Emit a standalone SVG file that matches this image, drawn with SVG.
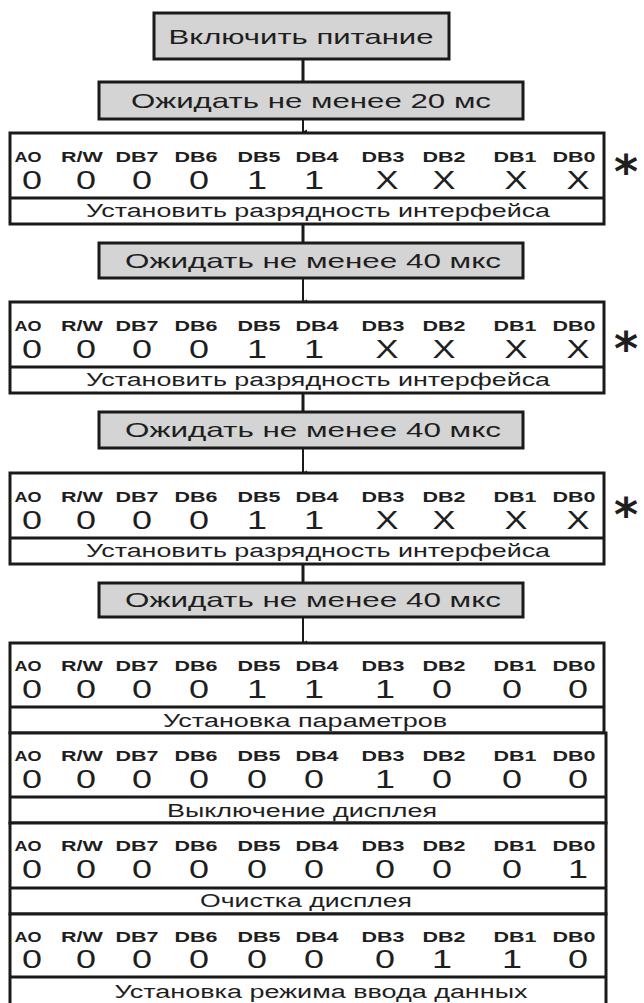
<svg xmlns="http://www.w3.org/2000/svg" width="644" height="1003" viewBox="0 0 644 1003">
<style>
.gray{fill:#d4d4d4;stroke:#1a1a1a;stroke-width:3}
.reg{fill:#fff;stroke:#1a1a1a;stroke-width:3}
.div{stroke:#1a1a1a;stroke-width:3}
.con{stroke:#1a1a1a;stroke-width:3;fill:none}
.cona{stroke:#1a1a1a;stroke-width:2;fill:none}
text{font-family:"Liberation Sans",Arial,sans-serif;fill:#1e1e1e}
.t{font-size:21px;text-anchor:middle}
.h{font-size:15px;font-weight:bold;text-anchor:middle}
.v{font-size:25px;text-anchor:middle}
.l{font-size:18px;text-anchor:middle}
.s{font-family:"DejaVu Sans",sans-serif;font-size:46px;font-weight:bold;text-anchor:middle}
</style>
<defs>
<marker id="arr" markerWidth="6" markerHeight="6" refX="3" refY="5" orient="auto-start-reverse" markerUnits="userSpaceOnUse" viewBox="0 0 6 6">
<path d="M0.5,1 L3,6 L5.5,1 Z" fill="#1a1a1a"/>
</marker>
</defs>

<g id="connectors">
<line class="con" x1="303" y1="58" x2="303" y2="82"/>
<line class="cona" x1="303" y1="118" x2="303" y2="132" marker-end="url(#arr)"/>
<line class="con" x1="303" y1="224" x2="303" y2="243"/>
<line class="cona" x1="303" y1="278" x2="303" y2="302" marker-end="url(#arr)"/>
<line class="con" x1="303" y1="393" x2="303" y2="412"/>
<line class="cona" x1="303" y1="448" x2="303" y2="473" marker-end="url(#arr)"/>
<line class="con" x1="303" y1="564" x2="303" y2="583"/>
<line class="cona" x1="303" y1="617" x2="303" y2="643" marker-end="url(#arr)"/>
</g>

<g id="power">
<rect class="gray" x="154" y="13" width="295" height="46"/>
<text class="t" x="301" y="44" textLength="265" lengthAdjust="spacingAndGlyphs">Включить питание</text>
</g>

<g id="wait20">
<rect class="gray" x="99" y="82" width="424" height="37"/>
<text class="t" x="311" y="108" textLength="360" lengthAdjust="spacingAndGlyphs">Ожидать не менее 20 мс</text>
</g>

<g id="reg1">
<rect class="reg" x="10" y="133" width="594" height="91"/>
<line class="div" x1="10" y1="198" x2="604" y2="198"/>
<text class="h" x="28" y="162" textLength="27" lengthAdjust="spacingAndGlyphs">AO</text>
<text class="h" x="82" y="162" textLength="42" lengthAdjust="spacingAndGlyphs">R/W</text>
<text class="h" x="137" y="162" textLength="43" lengthAdjust="spacingAndGlyphs">DB7</text>
<text class="h" x="196" y="162" textLength="43" lengthAdjust="spacingAndGlyphs">DB6</text>
<text class="h" x="259" y="162" textLength="43" lengthAdjust="spacingAndGlyphs">DB5</text>
<text class="h" x="317" y="162" textLength="43" lengthAdjust="spacingAndGlyphs">DB4</text>
<text class="h" x="383" y="162" textLength="43" lengthAdjust="spacingAndGlyphs">DB3</text>
<text class="h" x="444" y="162" textLength="43" lengthAdjust="spacingAndGlyphs">DB2</text>
<text class="h" x="515" y="162" textLength="43" lengthAdjust="spacingAndGlyphs">DB1</text>
<text class="h" x="574" y="162" textLength="43" lengthAdjust="spacingAndGlyphs">DB0</text>
<text class="v" x="32" y="189" textLength="20" lengthAdjust="spacingAndGlyphs">0</text>
<text class="v" x="86" y="189" textLength="20" lengthAdjust="spacingAndGlyphs">0</text>
<text class="v" x="142" y="189" textLength="20" lengthAdjust="spacingAndGlyphs">0</text>
<text class="v" x="199" y="189" textLength="20" lengthAdjust="spacingAndGlyphs">0</text>
<text class="v" x="257" y="189" textLength="20" lengthAdjust="spacingAndGlyphs">1</text>
<text class="v" x="314" y="189" textLength="20" lengthAdjust="spacingAndGlyphs">1</text>
<text class="v" x="387" y="189" textLength="23" lengthAdjust="spacingAndGlyphs">X</text>
<text class="v" x="444" y="189" textLength="23" lengthAdjust="spacingAndGlyphs">X</text>
<text class="v" x="516" y="189" textLength="23" lengthAdjust="spacingAndGlyphs">X</text>
<text class="v" x="578" y="189" textLength="23" lengthAdjust="spacingAndGlyphs">X</text>
<text class="l" x="318" y="217" textLength="464" lengthAdjust="spacingAndGlyphs">Установить разрядность интерфейса</text>
<text class="s" x="626" y="188">*</text>
</g>

<g id="wait40a">
<rect class="gray" x="99" y="243" width="424" height="35"/>
<text class="t" x="313" y="268" textLength="376" lengthAdjust="spacingAndGlyphs">Ожидать не менее 40 мкс</text>
</g>

<g id="reg2">
<rect class="reg" x="10" y="302" width="594" height="91"/>
<line class="div" x1="10" y1="367" x2="604" y2="367"/>
<text class="h" x="28" y="331" textLength="27" lengthAdjust="spacingAndGlyphs">AO</text>
<text class="h" x="82" y="331" textLength="42" lengthAdjust="spacingAndGlyphs">R/W</text>
<text class="h" x="137" y="331" textLength="43" lengthAdjust="spacingAndGlyphs">DB7</text>
<text class="h" x="196" y="331" textLength="43" lengthAdjust="spacingAndGlyphs">DB6</text>
<text class="h" x="259" y="331" textLength="43" lengthAdjust="spacingAndGlyphs">DB5</text>
<text class="h" x="317" y="331" textLength="43" lengthAdjust="spacingAndGlyphs">DB4</text>
<text class="h" x="383" y="331" textLength="43" lengthAdjust="spacingAndGlyphs">DB3</text>
<text class="h" x="444" y="331" textLength="43" lengthAdjust="spacingAndGlyphs">DB2</text>
<text class="h" x="515" y="331" textLength="43" lengthAdjust="spacingAndGlyphs">DB1</text>
<text class="h" x="574" y="331" textLength="43" lengthAdjust="spacingAndGlyphs">DB0</text>
<text class="v" x="32" y="358" textLength="20" lengthAdjust="spacingAndGlyphs">0</text>
<text class="v" x="86" y="358" textLength="20" lengthAdjust="spacingAndGlyphs">0</text>
<text class="v" x="142" y="358" textLength="20" lengthAdjust="spacingAndGlyphs">0</text>
<text class="v" x="199" y="358" textLength="20" lengthAdjust="spacingAndGlyphs">0</text>
<text class="v" x="257" y="358" textLength="20" lengthAdjust="spacingAndGlyphs">1</text>
<text class="v" x="314" y="358" textLength="20" lengthAdjust="spacingAndGlyphs">1</text>
<text class="v" x="387" y="358" textLength="23" lengthAdjust="spacingAndGlyphs">X</text>
<text class="v" x="444" y="358" textLength="23" lengthAdjust="spacingAndGlyphs">X</text>
<text class="v" x="516" y="358" textLength="23" lengthAdjust="spacingAndGlyphs">X</text>
<text class="v" x="578" y="358" textLength="23" lengthAdjust="spacingAndGlyphs">X</text>
<text class="l" x="318" y="386" textLength="464" lengthAdjust="spacingAndGlyphs">Установить разрядность интерфейса</text>
<text class="s" x="626" y="365">*</text>
</g>

<g id="wait40b">
<rect class="gray" x="99" y="412" width="424" height="36"/>
<text class="t" x="313" y="437" textLength="376" lengthAdjust="spacingAndGlyphs">Ожидать не менее 40 мкс</text>
</g>

<g id="reg3">
<rect class="reg" x="10" y="473" width="594" height="91"/>
<line class="div" x1="10" y1="538" x2="604" y2="538"/>
<text class="h" x="28" y="502" textLength="27" lengthAdjust="spacingAndGlyphs">AO</text>
<text class="h" x="82" y="502" textLength="42" lengthAdjust="spacingAndGlyphs">R/W</text>
<text class="h" x="137" y="502" textLength="43" lengthAdjust="spacingAndGlyphs">DB7</text>
<text class="h" x="196" y="502" textLength="43" lengthAdjust="spacingAndGlyphs">DB6</text>
<text class="h" x="259" y="502" textLength="43" lengthAdjust="spacingAndGlyphs">DB5</text>
<text class="h" x="317" y="502" textLength="43" lengthAdjust="spacingAndGlyphs">DB4</text>
<text class="h" x="383" y="502" textLength="43" lengthAdjust="spacingAndGlyphs">DB3</text>
<text class="h" x="444" y="502" textLength="43" lengthAdjust="spacingAndGlyphs">DB2</text>
<text class="h" x="515" y="502" textLength="43" lengthAdjust="spacingAndGlyphs">DB1</text>
<text class="h" x="574" y="502" textLength="43" lengthAdjust="spacingAndGlyphs">DB0</text>
<text class="v" x="32" y="529" textLength="20" lengthAdjust="spacingAndGlyphs">0</text>
<text class="v" x="86" y="529" textLength="20" lengthAdjust="spacingAndGlyphs">0</text>
<text class="v" x="142" y="529" textLength="20" lengthAdjust="spacingAndGlyphs">0</text>
<text class="v" x="199" y="529" textLength="20" lengthAdjust="spacingAndGlyphs">0</text>
<text class="v" x="257" y="529" textLength="20" lengthAdjust="spacingAndGlyphs">1</text>
<text class="v" x="314" y="529" textLength="20" lengthAdjust="spacingAndGlyphs">1</text>
<text class="v" x="387" y="529" textLength="23" lengthAdjust="spacingAndGlyphs">X</text>
<text class="v" x="444" y="529" textLength="23" lengthAdjust="spacingAndGlyphs">X</text>
<text class="v" x="516" y="529" textLength="23" lengthAdjust="spacingAndGlyphs">X</text>
<text class="v" x="578" y="529" textLength="23" lengthAdjust="spacingAndGlyphs">X</text>
<text class="l" x="318" y="557" textLength="464" lengthAdjust="spacingAndGlyphs">Установить разрядность интерфейса</text>
<text class="s" x="626" y="531">*</text>
</g>

<g id="wait40c">
<rect class="gray" x="99" y="583" width="424" height="34"/>
<text class="t" x="313" y="607" textLength="376" lengthAdjust="spacingAndGlyphs">Ожидать не менее 40 мкс</text>
</g>

<g id="reg4">
<rect class="reg" x="10" y="643" width="594" height="90"/>
<line class="div" x1="10" y1="707" x2="604" y2="707"/>
<text class="h" x="28" y="671" textLength="27" lengthAdjust="spacingAndGlyphs">AO</text>
<text class="h" x="82" y="671" textLength="42" lengthAdjust="spacingAndGlyphs">R/W</text>
<text class="h" x="137" y="671" textLength="43" lengthAdjust="spacingAndGlyphs">DB7</text>
<text class="h" x="196" y="671" textLength="43" lengthAdjust="spacingAndGlyphs">DB6</text>
<text class="h" x="259" y="671" textLength="43" lengthAdjust="spacingAndGlyphs">DB5</text>
<text class="h" x="317" y="671" textLength="43" lengthAdjust="spacingAndGlyphs">DB4</text>
<text class="h" x="383" y="671" textLength="43" lengthAdjust="spacingAndGlyphs">DB3</text>
<text class="h" x="444" y="671" textLength="43" lengthAdjust="spacingAndGlyphs">DB2</text>
<text class="h" x="515" y="671" textLength="43" lengthAdjust="spacingAndGlyphs">DB1</text>
<text class="h" x="574" y="671" textLength="43" lengthAdjust="spacingAndGlyphs">DB0</text>
<text class="v" x="32" y="698" textLength="20" lengthAdjust="spacingAndGlyphs">0</text>
<text class="v" x="86" y="698" textLength="20" lengthAdjust="spacingAndGlyphs">0</text>
<text class="v" x="142" y="698" textLength="20" lengthAdjust="spacingAndGlyphs">0</text>
<text class="v" x="199" y="698" textLength="20" lengthAdjust="spacingAndGlyphs">0</text>
<text class="v" x="257" y="698" textLength="20" lengthAdjust="spacingAndGlyphs">1</text>
<text class="v" x="314" y="698" textLength="20" lengthAdjust="spacingAndGlyphs">1</text>
<text class="v" x="385" y="698" textLength="20" lengthAdjust="spacingAndGlyphs">1</text>
<text class="v" x="442" y="698" textLength="20" lengthAdjust="spacingAndGlyphs">0</text>
<text class="v" x="512" y="698" textLength="20" lengthAdjust="spacingAndGlyphs">0</text>
<text class="v" x="578" y="698" textLength="20" lengthAdjust="spacingAndGlyphs">0</text>
<text class="l" x="305" y="727" textLength="284" lengthAdjust="spacingAndGlyphs">Установка параметров</text>
</g>

<g id="reg5">
<rect class="reg" x="10" y="733" width="596" height="90"/>
<line class="div" x1="10" y1="797" x2="606" y2="797"/>
<text class="h" x="28" y="761" textLength="27" lengthAdjust="spacingAndGlyphs">AO</text>
<text class="h" x="82" y="761" textLength="42" lengthAdjust="spacingAndGlyphs">R/W</text>
<text class="h" x="137" y="761" textLength="43" lengthAdjust="spacingAndGlyphs">DB7</text>
<text class="h" x="196" y="761" textLength="43" lengthAdjust="spacingAndGlyphs">DB6</text>
<text class="h" x="259" y="761" textLength="43" lengthAdjust="spacingAndGlyphs">DB5</text>
<text class="h" x="317" y="761" textLength="43" lengthAdjust="spacingAndGlyphs">DB4</text>
<text class="h" x="383" y="761" textLength="43" lengthAdjust="spacingAndGlyphs">DB3</text>
<text class="h" x="444" y="761" textLength="43" lengthAdjust="spacingAndGlyphs">DB2</text>
<text class="h" x="515" y="761" textLength="43" lengthAdjust="spacingAndGlyphs">DB1</text>
<text class="h" x="574" y="761" textLength="43" lengthAdjust="spacingAndGlyphs">DB0</text>
<text class="v" x="32" y="788" textLength="20" lengthAdjust="spacingAndGlyphs">0</text>
<text class="v" x="86" y="788" textLength="20" lengthAdjust="spacingAndGlyphs">0</text>
<text class="v" x="142" y="788" textLength="20" lengthAdjust="spacingAndGlyphs">0</text>
<text class="v" x="199" y="788" textLength="20" lengthAdjust="spacingAndGlyphs">0</text>
<text class="v" x="257" y="788" textLength="20" lengthAdjust="spacingAndGlyphs">0</text>
<text class="v" x="314" y="788" textLength="20" lengthAdjust="spacingAndGlyphs">0</text>
<text class="v" x="385" y="788" textLength="20" lengthAdjust="spacingAndGlyphs">1</text>
<text class="v" x="442" y="788" textLength="20" lengthAdjust="spacingAndGlyphs">0</text>
<text class="v" x="512" y="788" textLength="20" lengthAdjust="spacingAndGlyphs">0</text>
<text class="v" x="578" y="788" textLength="20" lengthAdjust="spacingAndGlyphs">0</text>
<text class="l" x="302" y="817" textLength="270" lengthAdjust="spacingAndGlyphs">Выключение дисплея</text>
</g>

<g id="reg6">
<rect class="reg" x="10" y="823" width="596" height="91"/>
<line class="div" x1="10" y1="888" x2="606" y2="888"/>
<text class="h" x="28" y="851" textLength="27" lengthAdjust="spacingAndGlyphs">AO</text>
<text class="h" x="82" y="851" textLength="42" lengthAdjust="spacingAndGlyphs">R/W</text>
<text class="h" x="137" y="851" textLength="43" lengthAdjust="spacingAndGlyphs">DB7</text>
<text class="h" x="196" y="851" textLength="43" lengthAdjust="spacingAndGlyphs">DB6</text>
<text class="h" x="259" y="851" textLength="43" lengthAdjust="spacingAndGlyphs">DB5</text>
<text class="h" x="317" y="851" textLength="43" lengthAdjust="spacingAndGlyphs">DB4</text>
<text class="h" x="383" y="851" textLength="43" lengthAdjust="spacingAndGlyphs">DB3</text>
<text class="h" x="444" y="851" textLength="43" lengthAdjust="spacingAndGlyphs">DB2</text>
<text class="h" x="515" y="851" textLength="43" lengthAdjust="spacingAndGlyphs">DB1</text>
<text class="h" x="574" y="851" textLength="43" lengthAdjust="spacingAndGlyphs">DB0</text>
<text class="v" x="32" y="878" textLength="20" lengthAdjust="spacingAndGlyphs">0</text>
<text class="v" x="86" y="878" textLength="20" lengthAdjust="spacingAndGlyphs">0</text>
<text class="v" x="142" y="878" textLength="20" lengthAdjust="spacingAndGlyphs">0</text>
<text class="v" x="199" y="878" textLength="20" lengthAdjust="spacingAndGlyphs">0</text>
<text class="v" x="257" y="878" textLength="20" lengthAdjust="spacingAndGlyphs">0</text>
<text class="v" x="314" y="878" textLength="20" lengthAdjust="spacingAndGlyphs">0</text>
<text class="v" x="385" y="878" textLength="20" lengthAdjust="spacingAndGlyphs">0</text>
<text class="v" x="442" y="878" textLength="20" lengthAdjust="spacingAndGlyphs">0</text>
<text class="v" x="512" y="878" textLength="20" lengthAdjust="spacingAndGlyphs">0</text>
<text class="v" x="578" y="878" textLength="20" lengthAdjust="spacingAndGlyphs">1</text>
<text class="l" x="306" y="907" textLength="212" lengthAdjust="spacingAndGlyphs">Очистка дисплея</text>
</g>

<g id="reg7">
<rect class="reg" x="10" y="914" width="596" height="100"/>
<line class="div" x1="10" y1="977" x2="606" y2="977"/>
<text class="h" x="28" y="942" textLength="27" lengthAdjust="spacingAndGlyphs">AO</text>
<text class="h" x="82" y="942" textLength="42" lengthAdjust="spacingAndGlyphs">R/W</text>
<text class="h" x="137" y="942" textLength="43" lengthAdjust="spacingAndGlyphs">DB7</text>
<text class="h" x="196" y="942" textLength="43" lengthAdjust="spacingAndGlyphs">DB6</text>
<text class="h" x="259" y="942" textLength="43" lengthAdjust="spacingAndGlyphs">DB5</text>
<text class="h" x="317" y="942" textLength="43" lengthAdjust="spacingAndGlyphs">DB4</text>
<text class="h" x="383" y="942" textLength="43" lengthAdjust="spacingAndGlyphs">DB3</text>
<text class="h" x="444" y="942" textLength="43" lengthAdjust="spacingAndGlyphs">DB2</text>
<text class="h" x="515" y="942" textLength="43" lengthAdjust="spacingAndGlyphs">DB1</text>
<text class="h" x="574" y="942" textLength="43" lengthAdjust="spacingAndGlyphs">DB0</text>
<text class="v" x="32" y="968" textLength="20" lengthAdjust="spacingAndGlyphs">0</text>
<text class="v" x="86" y="968" textLength="20" lengthAdjust="spacingAndGlyphs">0</text>
<text class="v" x="142" y="968" textLength="20" lengthAdjust="spacingAndGlyphs">0</text>
<text class="v" x="199" y="968" textLength="20" lengthAdjust="spacingAndGlyphs">0</text>
<text class="v" x="257" y="968" textLength="20" lengthAdjust="spacingAndGlyphs">0</text>
<text class="v" x="314" y="968" textLength="20" lengthAdjust="spacingAndGlyphs">0</text>
<text class="v" x="385" y="968" textLength="20" lengthAdjust="spacingAndGlyphs">0</text>
<text class="v" x="442" y="968" textLength="20" lengthAdjust="spacingAndGlyphs">1</text>
<text class="v" x="512" y="968" textLength="20" lengthAdjust="spacingAndGlyphs">1</text>
<text class="v" x="578" y="968" textLength="20" lengthAdjust="spacingAndGlyphs">0</text>
<text class="l" x="321" y="998" textLength="413" lengthAdjust="spacingAndGlyphs">Установка режима ввода данных</text>
</g>
</svg>
